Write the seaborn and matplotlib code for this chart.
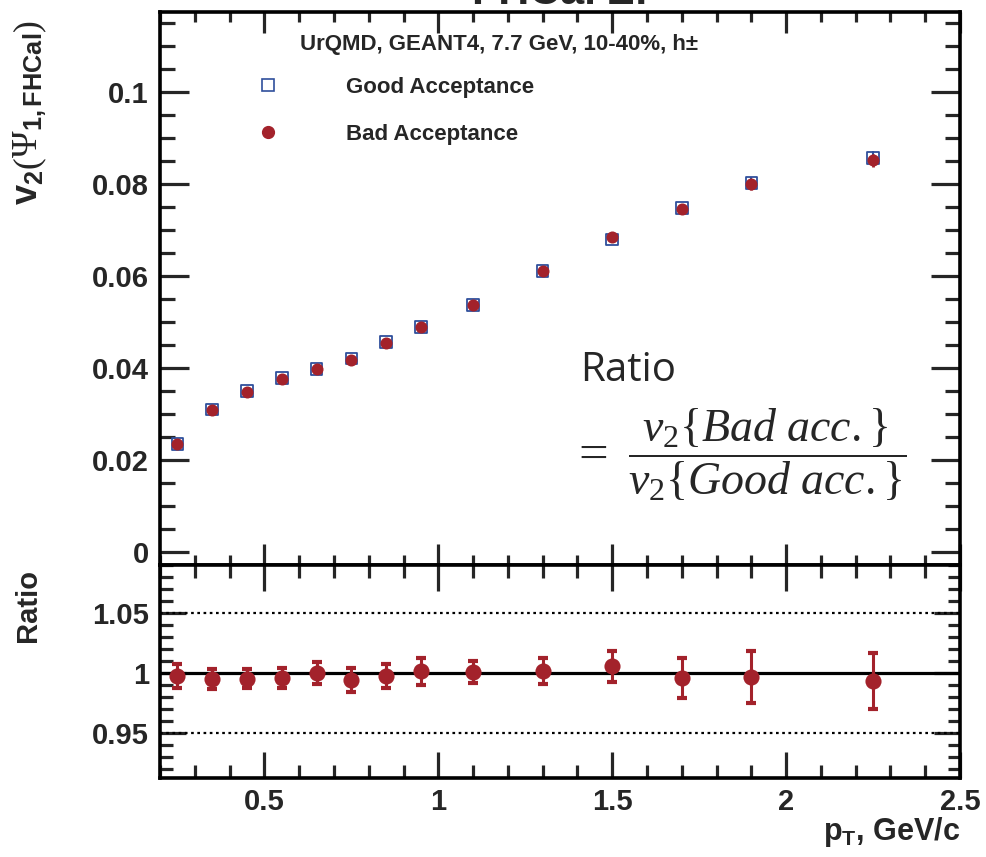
import numpy as np
import pandas as pd
import matplotlib
matplotlib.use("Agg")
import matplotlib.pyplot as plt
from matplotlib.lines import Line2D
from matplotlib.ticker import MultipleLocator, FixedLocator, FixedFormatter
import seaborn as sns

# ---------------- data ----------------
pt = [0.25, 0.35, 0.45, 0.55, 0.65, 0.75, 0.85, 0.95, 1.1, 1.3, 1.5, 1.7, 1.9, 2.25]
v2_good = [0.02348, 0.0310, 0.03507, 0.0379, 0.03985, 0.0421, 0.0457, 0.0490,
           0.0537, 0.0611, 0.0680, 0.0749, 0.0803, 0.0858]
v2_bad = [0.02343, 0.03085, 0.03490, 0.03775, 0.03985, 0.04185, 0.04560, 0.04907,
          0.05373, 0.06118, 0.06850, 0.07459, 0.08003, 0.08520]
v2_err = [0.00015, 0.00018, 0.0002, 0.00022, 0.00025, 0.0003, 0.00032, 0.00038,
          0.00035, 0.00045, 0.0006, 0.0009, 0.0012, 0.0014]
ratio = [0.9978, 0.9950, 0.9953, 0.9958, 1.0000, 0.9939, 0.9978, 1.0014,
         1.0006, 1.0014, 1.0056, 0.9958, 0.9967, 0.9933]
ratio_err = [0.0100, 0.0083, 0.0080, 0.0083, 0.0090, 0.0100, 0.0099, 0.0110,
             0.0090, 0.0107, 0.0128, 0.0167, 0.0215, 0.0230]

xticks = [0.5, 1.0, 1.5, 2.0, 2.5]
xticklabels = ["0.5", "1", "1.5", "2", "2.5"]
yticks_top = [0.0, 0.02, 0.04, 0.06, 0.08, 0.1]
yticklabels_top = ["0", "0.02", "0.04", "0.06", "0.08", "0.1"]
yticks_ratio = [0.95, 1.0, 1.05]
yticklabels_ratio = ["0.95", "1", "1.05"]

df = pd.DataFrame({"pt": pt, "good": v2_good, "bad": v2_bad, "err": v2_err,
                   "ratio": ratio, "rerr": ratio_err})

# ---------------- style ----------------
sns.set_style("ticks")
plt.rcParams['font.family'] = ['Liberation Sans', 'DejaVu Sans']
plt.rcParams['mathtext.fontset'] = 'custom'
plt.rcParams['mathtext.rm'] = 'Liberation Serif'
plt.rcParams['mathtext.it'] = 'Liberation Serif:italic'
plt.rcParams['mathtext.bf'] = 'Liberation Sans:bold'
plt.rcParams['mathtext.sf'] = 'Liberation Sans'

BLUE = '#2f4f9c'
RED = '#a3222b'

fig = plt.figure(figsize=(9.86, 8.57), dpi=100)
ax1 = fig.add_axes([0.1623, 0.3407, 0.8114, 0.6453])
ax2 = fig.add_axes([0.1623, 0.0922, 0.8114, 0.2485])

# ---------------- top panel ----------------
ax1.errorbar(df["pt"], df["good"], yerr=df["err"], fmt='none', ecolor=BLUE,
             elinewidth=1.5, capsize=0, zorder=2)
sns.scatterplot(data=df, x="pt", y="good", ax=ax1, marker='s', s=70,
                facecolor='none', edgecolor=BLUE, linewidth=1.3, zorder=3)
ax1.errorbar(df["pt"], df["bad"], yerr=df["err"], fmt='none', ecolor=RED,
             elinewidth=2, capsize=0, zorder=4)
sns.scatterplot(data=df, x="pt", y="bad", ax=ax1, marker='o', s=75,
                color=RED, edgecolor=RED, linewidth=0, zorder=5)

ax1.set_xlim(0.2, 2.5)
ax1.set_ylim(-0.0028, 0.1175)
ax1.xaxis.set_major_locator(FixedLocator(xticks))
ax1.xaxis.set_minor_locator(MultipleLocator(0.1))
ax1.yaxis.set_major_locator(FixedLocator(yticks_top))
ax1.yaxis.set_major_formatter(FixedFormatter(yticklabels_top))
ax1.yaxis.set_minor_locator(MultipleLocator(0.005))
ax1.tick_params(axis='x', which='major', direction='in', length=15, width=2.3,
                top=True, bottom=True, labelbottom=False)
ax1.tick_params(axis='x', which='minor', direction='in', length=7.5, width=2.3,
                top=True, bottom=True)
ax1.tick_params(axis='y', which='major', direction='in', length=21, width=2.3,
                left=True, right=True, labelsize=21, pad=8)
ax1.tick_params(axis='y', which='minor', direction='in', length=11, width=2.3,
                left=True, right=True)
for lab in ax1.get_yticklabels():
    lab.set_fontweight('bold')
ax1.set_xlabel("")
ax1.set_ylabel("")

legend_handles = [
    Line2D([], [], marker='s', ls='none', mfc='none', mec=BLUE, ms=8, mew=1.2),
    Line2D([], [], marker='o', ls='none', mfc=RED, mec=RED, ms=8.5),
]
ax1.legend(legend_handles, ["Good Acceptance", "Bad Acceptance"],
           loc='upper left', bbox_to_anchor=(0.1075, 0.882), frameon=False,
           prop={'weight': 'bold', 'size': 16}, handlelength=2.0,
           handletextpad=2.5, labelspacing=1.15, borderpad=0, borderaxespad=0)
ax1.text(0.175, 0.941, "UrQMD, GEANT4, 7.7 GeV, 10-40%, h\u00b1",
         transform=ax1.transAxes, fontsize=16, fontweight='bold', va='center')

# ---------------- ratio panel ----------------
ax2.axhline(1.0, color='black', lw=2.3, zorder=1)
ax2.axhline(1.05, color='black', lw=1.6, ls=(0, (1.2, 1.6)), zorder=1)
ax2.axhline(0.95, color='black', lw=1.6, ls=(0, (1.2, 1.6)), zorder=1)
ax2.errorbar(df["pt"], df["ratio"], yerr=df["rerr"], fmt='none', ecolor=RED,
             elinewidth=2.2, capsize=3.5, capthick=3, zorder=3)
sns.scatterplot(data=df, x="pt", y="ratio", ax=ax2, marker='o', s=135,
                color=RED, edgecolor=RED, linewidth=0, zorder=4)

ax2.set_xlim(0.2, 2.5)
ax2.set_ylim(0.9125, 1.09)
ax2.xaxis.set_major_locator(FixedLocator(xticks))
ax2.xaxis.set_major_formatter(FixedFormatter(xticklabels))
ax2.xaxis.set_minor_locator(MultipleLocator(0.1))
ax2.yaxis.set_major_locator(FixedLocator(yticks_ratio))
ax2.yaxis.set_major_formatter(FixedFormatter(yticklabels_ratio))
ax2.yaxis.set_minor_locator(MultipleLocator(0.01))
ax2.tick_params(axis='x', which='major', direction='in', length=19, width=2.3,
                top=True, bottom=True, labelsize=21, pad=7)
ax2.tick_params(axis='x', which='minor', direction='in', length=9.5, width=2.3,
                top=True, bottom=True)
ax2.tick_params(axis='y', which='major', direction='in', length=19, width=2.3,
                left=True, right=True, labelsize=21, pad=8)
ax2.tick_params(axis='y', which='minor', direction='in', length=9, width=2.3,
                left=True, right=True)
for lab in ax2.get_xticklabels() + ax2.get_yticklabels():
    lab.set_fontweight('bold')
ax2.set_xlabel("")
ax2.set_ylabel("")

for ax in (ax1, ax2):
    for sp in ax.spines.values():
        sp.set_linewidth(2.6)
        sp.set_color('black')
        sp.set_visible(True)

# ---------------- labels ----------------
fig.text(30 / 986, 1 - 112 / 857,
         r'$\mathbf{v_{2}}\left(\Psi_{\mathbf{1,FHCal}}\right)$',
         rotation=90, ha='center', va='center', fontsize=26)
fig.text(28 / 986, 1 - 605 / 857, "Ratio", rotation=90, ha='center',
         va='center', fontsize=21, fontweight='bold')
fig.text(960 / 986, 1 - 832 / 857, r'$\mathbf{p_{T}}$, GeV/c',
         ha='right', va='center', fontsize=22, fontweight='bold')
fig.text(560 / 986, 1 - 4 / 857, "FHCal Z!", ha='center', va='baseline',
         fontsize=31, fontweight='bold')

fig.text(580 / 986, 1 - 381 / 857, "Ratio", ha='left', va='baseline',
         fontsize=29, family='Open Sans')
fig.text(578 / 986, 1 - 457 / 857, "=", ha='left', va='center',
         fontsize=38, family='Liberation Serif')
fig.text(628 / 986, 1 - 455 / 857,
         r'$\dfrac{v_2\{Bad\ acc.\}}{v_2\{Good\ acc.\}}$',
         ha='left', va='center', fontsize=33)

fig.savefig("out.png", dpi=100, facecolor='white')
